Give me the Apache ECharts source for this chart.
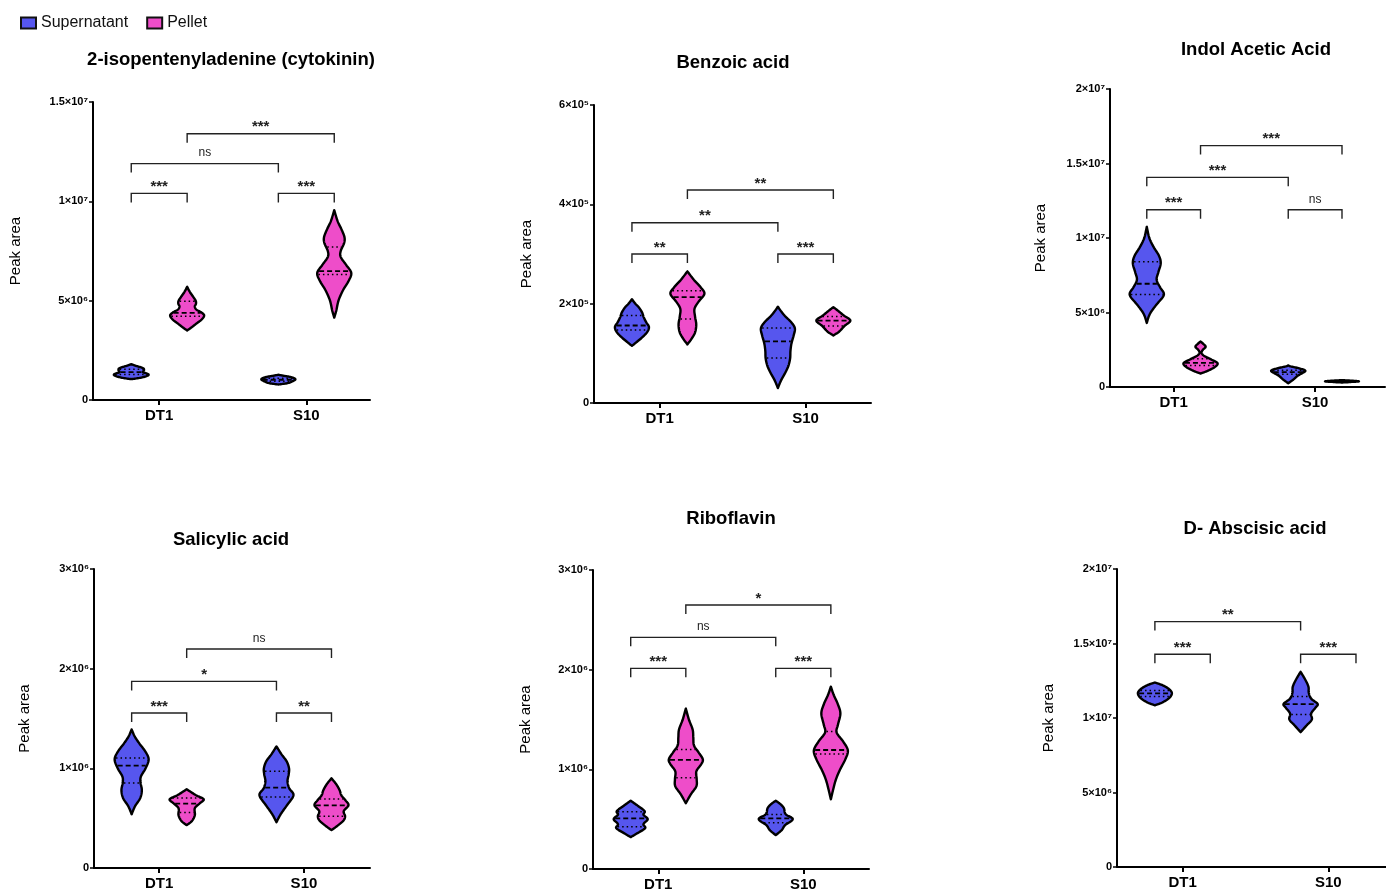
<!DOCTYPE html>
<html>
<head>
<meta charset="utf-8">
<script src="https://cdn.jsdelivr.net/npm/echarts@6/dist/echarts.min.js"></script>
<style>
html,body{margin:0;padding:0;background:#fff;}
#chart{width:1386px;height:892px;}
</style>
</head>
<body>
<div id="chart"></div>
<script>
// ---------------- DATA ----------------
const categories = ['DT1', 'S10'];
const groupNames = ['Supernatant', 'Pellet'];
const panelTitles = ['2-isopentenyladenine (cytokinin)', 'Benzoic acid', 'Indol Acetic Acid',
                     'Salicylic acid', 'Riboflavin', 'D- Abscisic acid'];
const yAxisName = 'Peak area';
const yMaxes = [1.5e7, 6e5, 2e7, 3e6, 3e6, 2e7];
const yTickSteps = [5e6, 2e5, 5e6, 1e6, 1e6, 5e6];

// Violin outlines: [value, relative density 0..1]; order DT1 Sup, DT1 Pellet, S10 Sup, S10 Pellet
const cytokininShapes = [
  [[1.05e6,0],[1.12e6,0.55],[1.22e6,0.95],[1.3e6,1.0],[1.4e6,0.7],[1.5e6,0.75],[1.6e6,0.7],[1.7e6,0.35],[1.8e6,0]],
  [[3.5e6,0],[3.65e6,0.25],[3.85e6,0.55],[4.05e6,0.85],[4.25e6,1.0],[4.4e6,0.85],[4.55e6,0.55],[4.7e6,0.45],[4.85e6,0.52],[5.0e6,0.5],[5.2e6,0.35],[5.45e6,0.15],[5.7e6,0]],
  [[0.78e6,0],[0.85e6,0.55],[0.95e6,0.85],[1.05e6,1.0],[1.15e6,0.75],[1.22e6,0.3],[1.27e6,0]],
  [[4.15e6,0],[4.5e6,0.12],[5.0e6,0.25],[5.5e6,0.5],[6.0e6,0.85],[6.4e6,1.0],[6.8e6,0.7],[7.2e6,0.38],[7.5e6,0.38],[7.9e6,0.58],[8.2e6,0.6],[8.6e6,0.42],[9.0e6,0.2],[9.55e6,0]]
];
const cytokininQuartiles = [[1.28e6,1.4e6,1.55e6],[4.22e6,4.39e6,4.97e6],[0.95e6,1.02e6,1.1e6],[6.32e6,6.49e6,7.7e6]];
const cytokininBrackets = [[0,1,1.04e7],[0,2,1.19e7],[1,3,1.34e7],[2,3,1.04e7]];
const cytokininBracketLabels = ['***','ns','***','***'];

const benzoicShapes = [
  [[1.15e5,0],[1.22e5,0.25],[1.32e5,0.6],[1.43e5,0.9],[1.53e5,1.0],[1.62e5,0.85],[1.72e5,0.7],[1.82e5,0.6],[1.92e5,0.42],[2.0e5,0.2],[2.09e5,0]],
  [[1.18e5,0],[1.28e5,0.22],[1.42e5,0.45],[1.58e5,0.52],[1.74e5,0.45],[1.9e5,0.42],[2.05e5,0.68],[2.2e5,1.0],[2.33e5,0.78],[2.48e5,0.38],[2.65e5,0]],
  [[0.3e5,0],[0.45e5,0.18],[0.6e5,0.42],[0.75e5,0.62],[0.9e5,0.72],[1.05e5,0.74],[1.2e5,0.8],[1.35e5,0.92],[1.5e5,1.0],[1.62e5,0.8],[1.75e5,0.42],[1.85e5,0.18],[1.94e5,0]],
  [[1.36e5,0],[1.44e5,0.35],[1.55e5,0.65],[1.66e5,1.0],[1.76e5,0.62],[1.85e5,0.3],[1.93e5,0]]
];
const benzoicQuartiles = [[1.47e5,1.56e5,1.76e5],[1.69e5,2.13e5,2.26e5],[0.905e5,1.24e5,1.51e5],[1.55e5,1.66e5,1.74e5]];
const benzoicBrackets = [[0,1,3.0e5],[0,2,3.63e5],[1,3,4.29e5],[2,3,3.0e5]];
const benzoicBracketLabels = ['**','**','**','***'];

const iaaShapes = [
  [[4.3e6,0],[4.9e6,0.18],[5.5e6,0.55],[6.0e6,0.92],[6.3e6,1.0],[6.7e6,0.78],[7.2e6,0.58],[7.7e6,0.68],[8.3e6,0.82],[8.8e6,0.72],[9.4e6,0.4],[10.0e6,0.15],[10.75e6,0]],
  [[0.9e6,0],[1.1e6,0.45],[1.35e6,0.85],[1.6e6,1.0],[1.85e6,0.62],[2.1e6,0.2],[2.3e6,0.06],[2.5e6,0.14],[2.7e6,0.3],[2.9e6,0.16],[3.05e6,0]],
  [[0.25e6,0],[0.5e6,0.3],[0.75e6,0.55],[0.95e6,0.85],[1.1e6,1.0],[1.25e6,0.65],[1.38e6,0.15],[1.45e6,0]],
  [[0.3e6,0],[0.35e6,0.7],[0.38e6,1.0],[0.42e6,0.6],[0.46e6,0]]
];
const iaaQuartiles = [[6.2e6,6.93e6,8.41e6],[1.45e6,1.62e6,1.9e6],[0.85e6,1.0e6,1.12e6],[0.36e6,0.38e6,0.4e6]];
const iaaBrackets = [[0,1,1.19e7],[0,2,1.407e7],[1,3,1.62e7],[2,3,1.19e7]];
const iaaBracketLabels = ['***','***','***','ns'];

const salicylicShapes = [
  [[5.4e5,0],[6.2e5,0.2],[7.0e5,0.5],[7.8e5,0.6],[8.6e5,0.52],[9.2e5,0.55],[1.0e6,0.82],[1.09e6,1.0],[1.17e6,0.8],[1.25e6,0.45],[1.32e6,0.18],[1.39e6,0]],
  [[4.3e5,0],[4.7e5,0.3],[5.3e5,0.48],[6.0e5,0.48],[6.5e5,0.78],[6.9e5,1.0],[7.3e5,0.55],[7.7e5,0.18],[7.9e5,0]],
  [[4.6e5,0],[5.4e5,0.25],[6.3e5,0.62],[7.3e5,1.0],[8.0e5,0.75],[8.7e5,0.65],[9.4e5,0.72],[1.0e6,0.74],[1.07e6,0.6],[1.14e6,0.3],[1.22e6,0]],
  [[3.8e5,0],[4.3e5,0.4],[4.8e5,0.72],[5.2e5,0.8],[5.7e5,0.72],[6.3e5,1.0],[6.8e5,0.82],[7.3e5,0.58],[7.8e5,0.48],[8.4e5,0.28],[9.0e5,0]]
];
const salicylicQuartiles = [[8.53e5,1.027e6,1.104e6],[5.58e5,6.45e5,7.02e5],[7.12e5,8.06e5,9.7e5],[5.18e5,6.28e5,6.92e5]];
const salicylicBrackets = [[0,1,1.555e6],[0,2,1.872e6],[1,3,2.197e6],[2,3,1.555e6]];
const salicylicBracketLabels = ['***','*','ns','**'];

const riboflavinShapes = [
  [[3.2e5,0],[3.6e5,0.4],[4.1e5,0.85],[4.5e5,0.75],[5.0e5,1.0],[5.45e5,0.75],[5.8e5,0.82],[6.3e5,0.45],[6.85e5,0]],
  [[6.6e5,0],[7.5e5,0.3],[8.3e5,0.62],[9.0e5,0.64],[9.8e5,0.62],[1.05e6,0.9],[1.1e6,1.0],[1.17e6,0.75],[1.24e6,0.48],[1.32e6,0.44],[1.4e6,0.4],[1.5e6,0.18],[1.61e6,0]],
  [[3.4e5,0],[3.9e5,0.35],[4.4e5,0.55],[5.0e5,1.0],[5.5e5,0.58],[6.1e5,0.48],[6.5e5,0.28],[6.85e5,0]],
  [[7.0e5,0],[8.0e5,0.14],[9.0e5,0.3],[1.0e6,0.55],[1.1e6,0.85],[1.19e6,1.0],[1.28e6,0.72],[1.37e6,0.34],[1.45e6,0.42],[1.56e6,0.56],[1.65e6,0.42],[1.75e6,0.16],[1.83e6,0]]
];
const riboflavinQuartiles = [[4.25e5,5.08e5,5.75e5],[9.16e5,1.094e6,1.2e6],[4.65e5,5.08e5,5.48e5],[1.154e6,1.194e6,1.38e6]];
const riboflavinBrackets = [[0,1,2.013e6],[0,2,2.324e6],[1,3,2.649e6],[2,3,2.013e6]];
const riboflavinBracketLabels = ['***','ns','*','***'];

const abscisicShapes = [
  [[1.085e7,0],[1.105e7,0.45],[1.135e7,0.85],[1.167e7,1.0],[1.195e7,0.82],[1.22e7,0.45],[1.238e7,0]],
  null,
  [[9.05e6,0],[9.5e6,0.35],[9.9e6,0.66],[1.03e7,0.62],[1.07e7,0.88],[1.095e7,1.0],[1.13e7,0.62],[1.17e7,0.48],[1.21e7,0.46],[1.26e7,0.26],[1.31e7,0]],
  null
];
const abscisicQuartiles = [[1.145e7,1.165e7,1.185e7],null,[1.023e7,1.093e7,1.144e7],null];
const abscisicBrackets = [[0,1,1.428e7],[0,2,1.647e7],[2,3,1.428e7]];
const abscisicBracketLabels = ['***','**','***'];

// ---------------- LAYOUT / STYLE ----------------
const FONT = 'Liberation Sans, Arial, sans-serif';
const COLORS = ['#5656EE', '#EE4DC9'];
const OFF = [-0.19, 0.19];
const HALF = 17;

const panels = [
  {shapes: cytokininShapes, quarts: cytokininQuartiles, brackets: cytokininBrackets, labels: cytokininBracketLabels,
   left: 93, top: 102, width: 277, height: 298, xMax: 1.433, nameGap: 70, tx: 231, ty: 60},
  {shapes: benzoicShapes, quarts: benzoicQuartiles, brackets: benzoicBrackets, labels: benzoicBracketLabels,
   left: 594, top: 105, width: 277, height: 298, xMax: 1.448, nameGap: 60, tx: 733, ty: 63},
  {shapes: iaaShapes, quarts: iaaQuartiles, brackets: iaaBrackets, labels: iaaBracketLabels,
   left: 1110, top: 89, width: 275, height: 298, xMax: 1.494, nameGap: 62, tx: 1256, ty: 50},
  {shapes: salicylicShapes, quarts: salicylicQuartiles, brackets: salicylicBrackets, labels: salicylicBracketLabels,
   left: 94, top: 569, width: 276, height: 299, xMax: 1.456, nameGap: 62, tx: 231, ty: 540},
  {shapes: riboflavinShapes, quarts: riboflavinQuartiles, brackets: riboflavinBrackets, labels: riboflavinBracketLabels,
   left: 593, top: 570, width: 276, height: 299, xMax: 1.453, nameGap: 60, tx: 731, ty: 519},
  {shapes: abscisicShapes, quarts: abscisicQuartiles, brackets: abscisicBrackets, labels: abscisicBracketLabels,
   left: 1117, top: 569, width: 269, height: 298, xMax: 1.396, nameGap: 61, tx: 1255, ty: 529}
];

const SUP = {'0':'⁰','1':'¹','2':'²','3':'³','4':'⁴','5':'⁵','6':'⁶','7':'⁷','8':'⁸','9':'⁹','-':'⁻'};
function sciLabel(v) {
  if (v === 0) return '0';
  const e = Math.floor(Math.log10(v) + 1e-9);
  const m = Math.round(v / Math.pow(10, e) * 100) / 100;
  return m + '×10' + String(e).split('').map(ch => SUP[ch]).join('');
}

function densify(pts) {
  const out = [];
  const n = pts.length;
  for (let i = 0; i < n - 1; i++) {
    const p0 = pts[Math.max(i - 1, 0)], p1 = pts[i], p2 = pts[i + 1], p3 = pts[Math.min(i + 2, n - 1)];
    for (let s = 0; s < 10; s++) {
      const t = s / 10, t2 = t * t, t3 = t2 * t;
      const f = (a, b, c, d) => 0.5 * (2 * b + (-a + c) * t + (2 * a - 5 * b + 4 * c - d) * t2 + (-a + 3 * b - 3 * c + d) * t3);
      out.push([f(p0[0], p1[0], p2[0], p3[0]), Math.max(0, f(p0[1], p1[1], p2[1], p3[1]))]);
    }
  }
  out.push(pts[n - 1]);
  return out;
}
function widthAt(pts, py) {
  for (let i = 0; i < pts.length - 1; i++) {
    const a = pts[i], b = pts[i + 1];
    if ((py <= a[0] && py >= b[0]) || (py >= a[0] && py <= b[0])) {
      const t = a[0] === b[0] ? 0 : (py - a[0]) / (b[0] - a[0]);
      return a[1] + (b[1] - a[1]) * t;
    }
  }
  return 0;
}

function violinSeries(pi, g) {
  const P = panels[pi];
  const data = [];
  for (let c = 0; c < categories.length; c++) {
    if (P.shapes[c * 2 + g]) data.push([c + OFF[g], P.quarts[c * 2 + g][1], c]);
  }
  return {
    type: 'custom', name: groupNames[g], xAxisIndex: pi, yAxisIndex: pi,
    itemStyle: {color: COLORS[g]}, data: data, z: 3,
    renderItem: function (params, api) {
      const c = api.value(2);
      const idx = c * 2 + g;
      const shape = P.shapes[idx], q = P.quarts[idx];
      const cx = api.coord([api.value(0), 0])[0];
      const pts = densify(shape.map(p => [api.coord([0, p[0]])[1], p[1]]));
      const right = pts.map(p => [cx + p[1] * HALF, p[0]]);
      const left = pts.slice().reverse().map(p => [cx - p[1] * HALF, p[0]]);
      const children = [{
        type: 'polygon', shape: {points: right.concat(left)},
        style: {fill: COLORS[g], stroke: '#000', lineWidth: 2.4, lineJoin: 'round'}
      }];
      q.forEach((qv, k) => {
        const py = api.coord([0, qv])[1];
        const w = widthAt(pts, py) * HALF;
        if (w > 1.5) {
          children.push({
            type: 'line', shape: {x1: cx - w + 1.2, y1: py, x2: cx + w - 1.2, y2: py},
            style: {stroke: '#000', lineWidth: k === 1 ? 1.8 : 1.5, lineDash: k === 1 ? [5, 3] : [1.5, 3]}
          });
        }
      });
      return {type: 'group', children: children};
    }
  };
}

function bracketSeries(pi) {
  const P = panels[pi];
  return {
    type: 'custom', xAxisIndex: pi, yAxisIndex: pi, silent: true, z: 4,
    data: P.brackets,
    renderItem: function (params, api) {
      const i1 = api.value(0), i2 = api.value(1), y = api.value(2);
      const a = api.coord([Math.floor(i1 / 2) + OFF[i1 % 2], y]);
      const b = api.coord([Math.floor(i2 / 2) + OFF[i2 % 2], y]);
      const label = P.labels[params.dataIndex];
      const ns = label === 'ns';
      return {type: 'group', children: [
        {type: 'polyline', shape: {points: [[a[0], a[1] + 9], [a[0], a[1]], [b[0], b[1]], [b[0], b[1] + 9]]},
         style: {stroke: '#222', lineWidth: 1.4, fill: null}},
        {type: 'text', x: (a[0] + b[0]) / 2, y: a[1] + (ns ? -4.5 : 1),
         style: {text: label, align: 'center', verticalAlign: 'bottom',
                 font: ns ? ('12px ' + FONT) : ('bold 15px ' + FONT), fill: '#222'}}
      ]};
    }
  };
}

const grids = [], xAxes = [], yAxes = [], series = [], graphics = [];
panels.forEach((P, i) => {
  grids.push({left: P.left, top: P.top, width: P.width, height: P.height, containLabel: false, outerBoundsMode: 'none'});
  xAxes.push({
    type: 'value', gridIndex: i, min: -0.45, max: P.xMax,
    axisLine: {show: true, onZero: false, lineStyle: {color: '#000', width: 2}},
    axisTick: {show: true, customValues: [0, 1], length: 5, lineStyle: {color: '#000', width: 2}},
    axisLabel: {show: true, customValues: [0, 1], formatter: v => categories[Math.round(v)] || '',
                fontFamily: FONT, fontSize: 15, fontWeight: 'bold', color: '#000', margin: 8},
    splitLine: {show: false}
  });
  yAxes.push({
    type: 'value', gridIndex: i, min: 0, max: yMaxes[i], interval: yTickSteps[i],
    name: yAxisName, nameLocation: 'middle', nameGap: P.nameGap,
    nameTextStyle: {fontFamily: FONT, fontSize: 15, color: '#000'},
    axisLine: {show: true, onZero: false, lineStyle: {color: '#000', width: 2}},
    axisTick: {show: true, length: 4, lineStyle: {color: '#000', width: 1.5}},
    axisLabel: {formatter: sciLabel, fontFamily: FONT, fontSize: 11, fontWeight: 'bold', color: '#000', margin: 5},
    splitLine: {show: false}
  });
  series.push(bracketSeries(i));
  series.push(violinSeries(i, 0));
  series.push(violinSeries(i, 1));
  graphics.push({type: 'text', x: P.tx, y: P.ty,
    style: {text: panelTitles[i], align: 'center', verticalAlign: 'middle', font: 'bold 18.5px ' + FONT, fill: '#000'}});
});

const chart = echarts.init(document.getElementById('chart'), null, {renderer: 'canvas'});
chart.setOption({
  animation: false,
  backgroundColor: '#fff',
  legend: {
    data: groupNames, left: 15, top: 10, icon: 'rect', itemWidth: 15, itemHeight: 11, itemGap: 18,
    itemStyle: {borderColor: '#111', borderWidth: 2},
    textStyle: {fontFamily: FONT, fontSize: 16, color: '#111'}
  },
  grid: grids, xAxis: xAxes, yAxis: yAxes, series: series, graphic: graphics
});
</script>
</body>
</html>
